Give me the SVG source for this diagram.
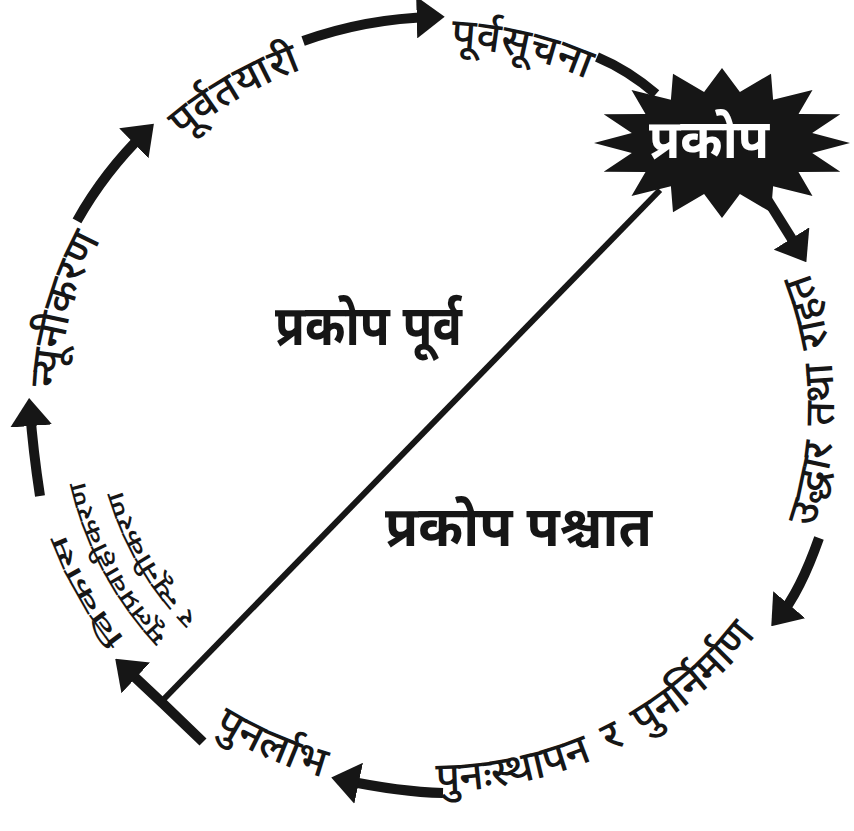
<svg xmlns="http://www.w3.org/2000/svg" width="854" height="831" viewBox="0 0 854 831">
<style>
.lbl{font-family:"Noto Sans Devanagari","Lohit Devanagari","Noto Sans",sans-serif;font-size:42px;font-weight:500;fill:#161616;}
.sm{font-size:24px;}
.big{font-family:"Noto Sans Devanagari","Lohit Devanagari","Noto Sans",sans-serif;font-size:56px;font-weight:700;fill:#161616;}
.arc{fill:none;stroke:#161616;stroke-width:10;}
.diag{fill:none;stroke:#161616;stroke-width:6;}
</style>
<defs>
<marker id="ah" markerUnits="userSpaceOnUse" markerWidth="28" markerHeight="42" refX="16" refY="21" orient="auto" viewBox="0 0 28 42"><path d="M0,0 L28,21 L0,42 z" fill="#161616"/></marker>
<path id="cw" d="M108.1,587 A374,360 0 0 1 432,47 A374,360 0 0 1 755.9,227"/>
<path id="ccw" d="M83.9,599.5 A402,385 0 0 0 780.1,599.5 A402,385 0 0 0 633,73.6"/>
<path id="l1" d="M156.2,672.9 A390,376 0 0 1 42,407"/>
<path id="l2" d="M180.3,648.8 A356,342 0 0 1 76,407"/>
<path id="l3" d="M204.3,624.8 A322,308 0 0 1 110,407"/>
</defs>
<rect width="854" height="831" fill="#fff"/>
<g id="connectors">
<path class="arc" d="M77,220.9 A404,390 0 0 1 145.3,132.2" marker-end="url(#ah)"/>
<path class="arc" d="M303.1,41 A404,390 0 0 1 432.7,17" marker-end="url(#ah)"/>
<path class="arc" d="M597,57 Q628,70 656,94"/>
<path class="arc" d="M765,196 L800,252" marker-end="url(#ah)"/>
<path class="arc" d="M819,538 Q800,592 779,617" marker-end="url(#ah)"/>
<path class="arc" d="M443,793 Q400,792 343,780" marker-end="url(#ah)"/>
<path class="arc" d="M203,742 Q165,705 124,667" marker-end="url(#ah)"/>
<path class="arc" d="M40,496 Q33,450 30,410" marker-end="url(#ah)"/>
<path class="diag" d="M163,700 L660,190"/>
</g>
<g id="prakop">
<polygon fill="#161616" points="850,143 812.2,153.1 840.3,171.7 798.5,171.9 812.5,196 773.1,186.2 771,212.3 739.9,194 722,218 704.1,194 673,212.3 670.9,186.2 631.5,196 645.5,171.9 603.7,171.7 631.8,153.1 594,143 631.8,132.9 603.7,114.3 645.5,114.1 631.5,90 670.9,99.8 673,73.7 704.1,92 722,68 739.9,92 771,73.7 773.1,99.8 812.5,90 798.5,114.1 840.3,114.3 812.2,132.9"/>
<text class="big" x="709" y="158" text-anchor="middle" style="fill:#fff;font-size:54px" textLength="120" lengthAdjust="spacingAndGlyphs">प्रकोप</text>
</g>
<g id="purbasuchana"><text class="lbl"><textPath href="#cw" startOffset="74.1%" text-anchor="middle">पूर्वसूचना</textPath></text></g>
<g id="purbatayari"><text class="lbl"><textPath href="#cw" startOffset="48.9%" text-anchor="middle">पूर्वतयारी</textPath></text></g>
<g id="nyunikaran"><text class="lbl"><textPath href="#cw" startOffset="24.8%" text-anchor="middle">न्यूनीकरण</textPath></text></g>
<g id="uddhar"><text class="lbl"><textPath href="#ccw" startOffset="72.2%" text-anchor="middle" word-spacing="6">उद्धार तथा राहत</textPath></text></g>
<g id="punasthapan"><text class="lbl"><textPath href="#ccw" startOffset="41.9%" text-anchor="middle" word-spacing="8">पुनःस्थापन र पुनर्निर्माण</textPath></text></g>
<g id="punarlabh"><text class="lbl"><textPath href="#ccw" startOffset="17%" text-anchor="middle">पुनर्लाभ</textPath></text></g>
<g id="bikas">
<text class="lbl sm"><textPath href="#l1" startOffset="46" textLength="122" lengthAdjust="spacingAndGlyphs">विकास</textPath></text>
<text class="lbl sm"><textPath href="#l2" startOffset="18" textLength="178" lengthAdjust="spacingAndGlyphs">मूलप्रवाहीकरण</textPath></text>
<text class="lbl sm"><textPath href="#l3" startOffset="10" textLength="150" lengthAdjust="spacingAndGlyphs">र न्यूनीकरण</textPath></text>
</g>
<g id="labels">
<text class="big" x="275" y="345" textLength="187" lengthAdjust="spacingAndGlyphs">प्रकोप पूर्व</text>
<text class="big" x="385" y="546" textLength="267" lengthAdjust="spacingAndGlyphs">प्रकोप पश्चात</text>
</g>
</svg>
